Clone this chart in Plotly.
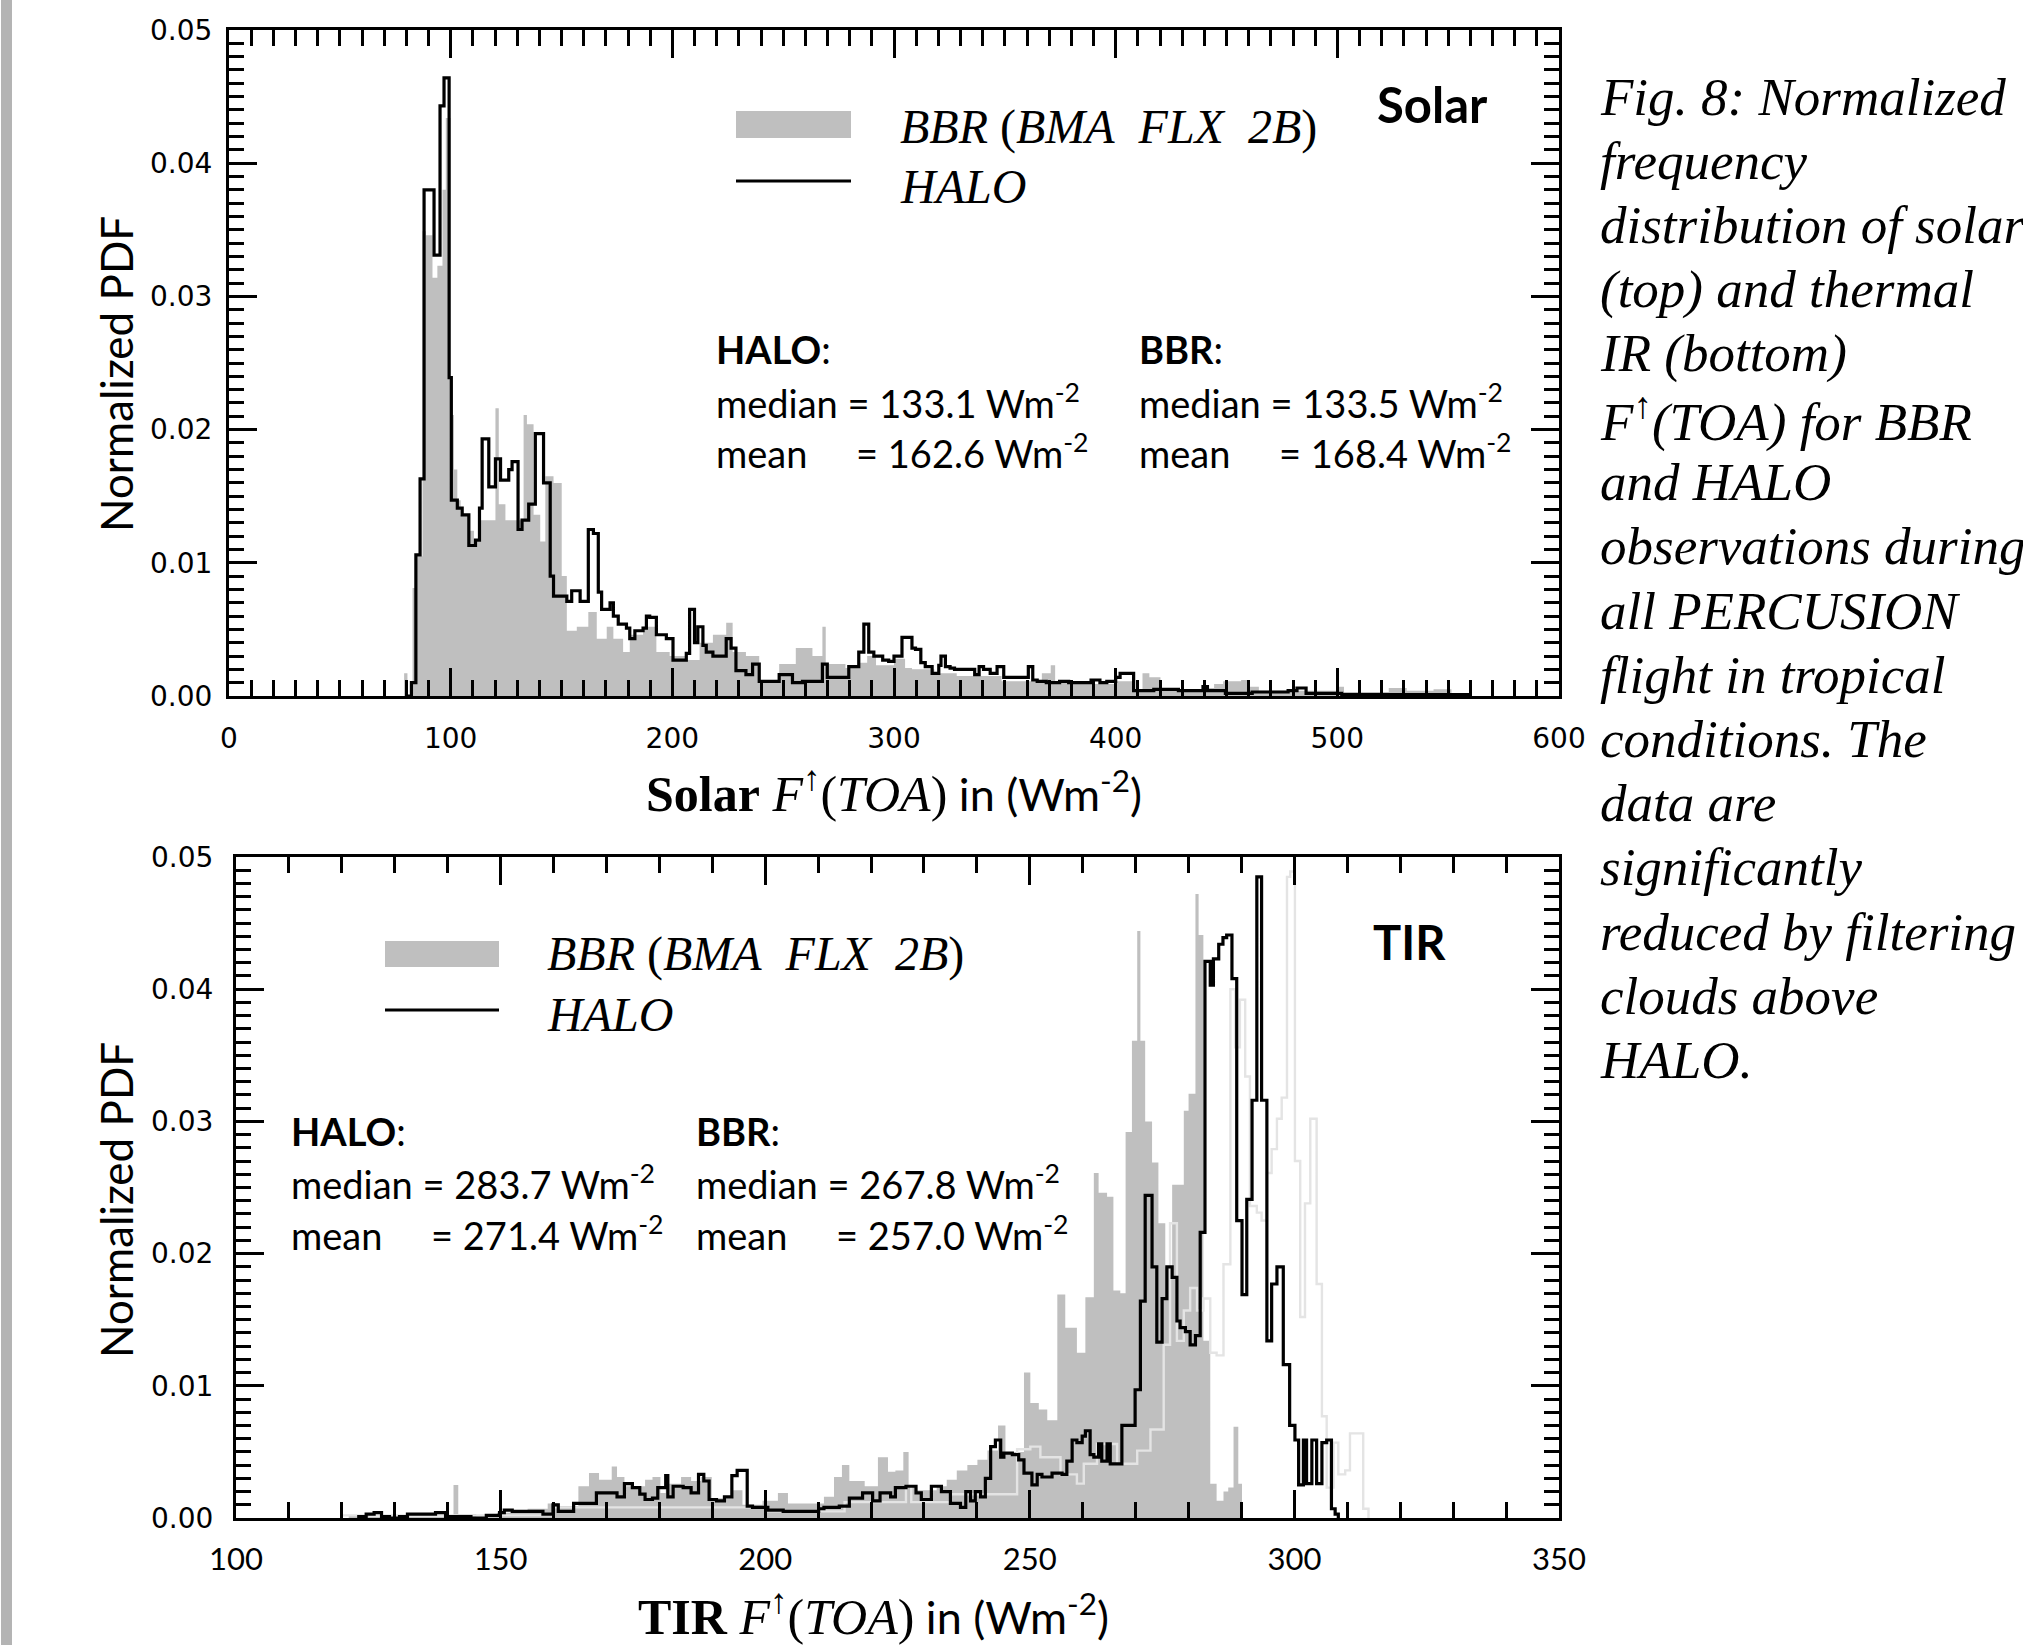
import plotly.graph_objects as go

W, H = 2023, 1645

# ---------------- data (bin edges in Wm-2, normalized PDF) ----------------
# Solar panel: HALO step histogram (value holds from edge i to edge i+1)
SOLAR_HALO_X = [80.0, 82.3, 84.3, 86.2, 88.0, 92.5, 95.2, 97.0, 99.3, 100.3,
                103.0, 105.2, 108.2, 111.2, 113.0, 114.2, 117.2, 120.2, 122.5, 126.2,
                127.7, 130.4, 132.2, 135.2, 138.2, 141.9, 144.9, 146.4, 152.4, 154.6,
                158.4, 162.1, 164.4, 166.6, 168.1, 171.9, 173.4, 175.6, 179.3, 180.8,
                183.1, 186.8, 188.3, 189.8, 192.8, 197.3, 200.3, 206.3, 207.8, 210.0,
                211.5, 213.8, 215.3, 218.3, 224.3, 226.5, 228.7, 233.2, 236.2, 239.2,
                248.2, 254.2, 258.7, 267.7, 269.9, 279.6, 284.1, 286.4, 288.6, 290.9,
                294.9, 297.6, 300.0, 303.6, 308.1, 309.7, 312.1, 314.1, 317.2, 320.2,
                321.2, 323.2, 325.3, 327.3, 336.4, 338.4, 340.4, 343.4, 346.5, 349.5,
                360.6, 362.6, 364.6, 368.7, 374.7, 378.8, 380.8, 388.9, 392.9, 396.0,
                400.0, 402.0, 408.1, 417.2, 428.3, 433.3, 439.4, 441.4, 449.5, 461.6,
                477.8, 481.8, 485.9, 502.0, 560.0]
SOLAR_HALO_PDF = [0.0, 0.0010, 0.0106, 0.0163, 0.0380, 0.0331, 0.0443, 0.0464, 0.0239, 0.0147,
                  0.0141, 0.0136, 0.0113, 0.0117, 0.0141, 0.0193, 0.0157, 0.0178, 0.0162, 0.0170,
                  0.0176, 0.0125, 0.0132, 0.0144, 0.0197, 0.0160, 0.0090, 0.0075, 0.0071, 0.0079,
                  0.0071, 0.0125, 0.0122, 0.0078, 0.0065, 0.0070, 0.0060, 0.0054, 0.0051, 0.0043,
                  0.0049, 0.0051, 0.0060, 0.0059, 0.0046, 0.0043, 0.0027, 0.0032, 0.0065, 0.0040,
                  0.0052, 0.0038, 0.0033, 0.0030, 0.0043, 0.0036, 0.0019, 0.0016, 0.0024, 0.0011,
                  0.0016, 0.0010, 0.0011, 0.0024, 0.0014, 0.0022, 0.0033, 0.0054, 0.0033, 0.0030,
                  0.0027, 0.0026, 0.0030, 0.0044, 0.0036, 0.0035, 0.0025, 0.0022, 0.0017, 0.0023,
                  0.0030, 0.0022, 0.0021, 0.0020, 0.0016, 0.0022, 0.0020, 0.0017, 0.0022, 0.0014,
                  0.0022, 0.0012, 0.0011, 0.0010, 0.0011, 0.0010, 0.0010, 0.0012, 0.0010, 0.0011,
                  0.0014, 0.0017, 0.0004, 0.0005, 0.0004, 0.0004, 0.0007, 0.0004, 0.0002, 0.0003,
                  0.0004, 0.0006, 0.0002, 0.0001, 0.0]

# Solar panel: BBR (BMA FLX 2B) filled histogram
SOLAR_BBR_X = [79.0, 80.5, 82.8, 84.3, 85.8, 87.3, 88.8, 91.8, 94.0, 96.3,
               97.8, 100.0, 101.5, 103.0, 104.5, 108.2, 110.5, 113.5, 120.2, 121.7,
               124.7, 132.9, 134.4, 137.4, 140.4, 142.7, 146.4, 150.1, 152.4, 156.9,
               162.1, 165.9, 170.4, 173.4, 177.8, 180.8, 186.8, 192.8, 198.8, 206.3,
               212.3, 218.3, 224.3, 227.2, 233.2, 239.2, 248.2, 255.7, 263.2, 267.7,
               269.2, 278.1, 283.8, 287.9, 291.9, 300.0, 305.0, 308.1, 318.2, 328.3,
               348.5, 366.7, 370.7, 372.7, 380.8, 400.0, 408.1, 412.1, 415.2, 420.2,
               440.4, 444.4, 448.5, 456.6, 460.6, 464.6, 500.0, 503.0, 523.2, 531.3,
               543.4, 551.5, 560.0]
SOLAR_BBR_PDF = [0.0017, 0.0, 0.0081, 0.0105, 0.0105, 0.0349, 0.0346, 0.0314, 0.0323, 0.0380,
                 0.0434, 0.0211, 0.0170, 0.0147, 0.0136, 0.0124, 0.0116, 0.0132, 0.0216, 0.0144,
                 0.0132, 0.0211, 0.0204, 0.0136, 0.0116, 0.0165, 0.0160, 0.0090, 0.0049, 0.0052,
                 0.0063, 0.0043, 0.0052, 0.0043, 0.0033, 0.0046, 0.0052, 0.0033, 0.0030, 0.0027,
                 0.0040, 0.0046, 0.0055, 0.0033, 0.0030, 0.0011, 0.0024, 0.0036, 0.0030, 0.0052,
                 0.0024, 0.0021, 0.0025, 0.0030, 0.0023, 0.0028, 0.0021, 0.0020, 0.0017, 0.0015,
                 0.0011, 0.0017, 0.0023, 0.0011, 0.0009, 0.0011, 0.0004, 0.0017, 0.0014, 0.0005,
                 0.0006, 0.0009, 0.0011, 0.0012, 0.0007, 0.0004, 0.0007, 0.0003, 0.0006, 0.0004,
                 0.0005, 0.0002, 0.0]

# TIR panel: HALO step histogram
TIR_HALO_X = [123.2, 124.6, 126.1, 127.5, 129.0, 130.9, 132.4, 137.7, 139.6, 144.4,
              147.3, 149.8, 150.7, 152.2, 155.1, 158.0, 159.9, 160.9, 163.8, 168.1,
              169.6, 172.0, 173.4, 174.9, 176.3, 177.3, 178.7, 179.7, 181.2, 181.6,
              182.6, 184.5, 186.0, 187.4, 188.4, 189.4, 190.8, 192.3, 193.7, 194.7,
              196.6, 197.6, 200.5, 203.4, 210.1, 211.1, 214.0, 215.9, 218.4, 220.3,
              221.7, 223.7, 224.6, 226.6, 228.5, 229.5, 231.4, 233.3, 235.0, 236.9,
              237.9, 238.8, 239.7, 240.7, 241.6, 242.6, 243.5, 244.5, 245.1, 246.7,
              247.9, 248.9, 250.4, 251.4, 252.3, 254.2, 256.1, 257.0, 258.0, 258.9,
              259.9, 260.5, 261.4, 262.1, 263.0, 263.6, 264.6, 265.2, 266.5, 267.4,
              269.9, 270.9, 271.8, 273.1, 274.0, 275.0, 275.9, 276.9, 277.8, 278.4,
              279.4, 280.3, 281.3, 282.2, 283.1, 284.1, 284.7, 285.7, 286.5, 287.2,
              288.2, 289.1, 290.1, 291.0, 292.0, 292.9, 293.8, 294.8, 295.7, 296.7,
              297.9, 299.1, 300.1, 300.8, 301.7, 302.3, 303.3, 304.2, 305.2, 306.1,
              307.0, 307.7, 308.3]
TIR_HALO_PDF = [0.0001, 0.0003, 0.0004, 0.0001, 0.0, 0.0001, 0.0003, 0.0004, 0.0001, 0.0,
                0.0002, 0.0004, 0.0006, 0.0005, 0.0005, 0.0003, 0.0010, 0.0005, 0.0011, 0.0019,
                0.0019, 0.0016, 0.0026, 0.0023, 0.0018, 0.0014, 0.0015, 0.0023, 0.0032, 0.0016,
                0.0024, 0.0023, 0.0019, 0.0033, 0.0028, 0.0014, 0.0013, 0.0016, 0.0032, 0.0036,
                0.0009, 0.0008, 0.0006, 0.0005, 0.0007, 0.0008, 0.0009, 0.0015, 0.0019, 0.0013,
                0.0019, 0.0016, 0.0023, 0.0024, 0.0019, 0.0014, 0.0024, 0.0020, 0.0011, 0.0008,
                0.0020, 0.0013, 0.0020, 0.0016, 0.0030, 0.0054, 0.0059, 0.0046, 0.0049, 0.0048,
                0.0044, 0.0034, 0.0025, 0.0033, 0.0031, 0.0034, 0.0033, 0.0043, 0.0059, 0.0057,
                0.0062, 0.0066, 0.0048, 0.0046, 0.0056, 0.0043, 0.0056, 0.0041, 0.0041, 0.0070,
                0.0097, 0.0164, 0.0244, 0.0190, 0.0133, 0.0166, 0.0190, 0.0182, 0.0149, 0.0144,
                0.0141, 0.0131, 0.0138, 0.0216, 0.0421, 0.0403, 0.0423, 0.0434, 0.0439, 0.0441,
                0.0408, 0.0225, 0.0169, 0.0241, 0.0316, 0.0485, 0.0316, 0.0134, 0.0177, 0.0190,
                0.0116, 0.0070, 0.0059, 0.0025, 0.0059, 0.0026, 0.0059, 0.0026, 0.0057, 0.0059,
                0.0007, 0.0003, 0.0]

# TIR panel: BBR (BMA FLX 2B) filled histogram
TIR_BBR_X = [121.3, 125.1, 141.1, 142.0, 145.4, 149.3, 155.1, 158.9, 160.9, 164.7,
             166.7, 168.6, 171.0, 172.0, 173.4, 177.3, 178.7, 180.2, 181.2, 184.1,
             186.0, 187.9, 189.9, 193.7, 195.7, 199.5, 202.4, 204.3, 211.1, 213.0,
             214.5, 215.9, 218.8, 221.3, 223.2, 224.6, 226.1, 227.1, 228.5, 232.4,
             234.3, 236.2, 238.2, 240.1, 242.0, 244.0, 245.4, 248.9, 250.1, 251.7,
             253.3, 255.2, 256.7, 258.9, 260.5, 262.1, 263.0, 264.6, 265.8, 267.1,
             268.1, 269.3, 270.3, 270.9, 271.8, 273.1, 274.3, 275.6, 276.9, 279.1,
             280.0, 281.3, 281.9, 282.8, 284.1, 285.3, 286.6, 287.5, 288.5, 289.4,
             290.1]
TIR_BBR_PDF = [0.0002, 0.0001, 0.0025, 0.0003, 0.0001, 0.0004, 0.0007, 0.0011, 0.0009, 0.0024,
               0.0034, 0.0029, 0.0039, 0.0031, 0.0024, 0.0029, 0.0031, 0.0019, 0.0026, 0.0031,
               0.0028, 0.0031, 0.0015, 0.0021, 0.0010, 0.0013, 0.0019, 0.0011, 0.0016, 0.0031,
               0.0040, 0.0028, 0.0024, 0.0046, 0.0035, 0.0036, 0.0050, 0.0024, 0.0021, 0.0024,
               0.0029, 0.0036, 0.0040, 0.0044, 0.0051, 0.0070, 0.0050, 0.0110, 0.0087, 0.0082,
               0.0074, 0.0169, 0.0144, 0.0125, 0.0167, 0.0261, 0.0246, 0.0243, 0.0172, 0.0170,
               0.0292, 0.0361, 0.0444, 0.0361, 0.0300, 0.0269, 0.0223, 0.0190, 0.0252, 0.0308,
               0.0321, 0.0472, 0.0441, 0.0134, 0.0026, 0.0013, 0.0020, 0.0023, 0.0069, 0.0026,
               0.0]

# TIR panel: faint light-grey histogram (unlabelled in the original)
TIR_LIGHT_X = [120.0, 160.0, 200.0, 215.0, 226.6, 227.6, 235.0, 247.6, 250.1, 252.0,
               255.8, 258.9, 260.2, 262.7, 266.5, 270.3, 272.8, 275.3, 276.5, 277.8,
               279.1, 280.3, 281.6, 282.8, 284.1, 285.3, 286.6, 287.9, 288.8, 289.7,
               290.7, 291.6, 292.9, 293.8, 294.8, 295.7, 296.7, 297.6, 298.6, 299.2,
               300.1, 301.1, 302.0, 303.0, 304.2, 305.2, 306.1, 307.4, 308.3, 309.6,
               310.5, 313.0, 314.0]
TIR_LIGHT_PDF = [0.0002, 0.0008, 0.0005, 0.0012, 0.0024, 0.0012, 0.0018, 0.0052, 0.0054, 0.0046,
                 0.0033, 0.0026, 0.0041, 0.0056, 0.0041, 0.0051, 0.0067, 0.0131, 0.0223, 0.0134,
                 0.0157, 0.0174, 0.0157, 0.0166, 0.0125, 0.0123, 0.0192, 0.0400, 0.0356, 0.0392,
                 0.0334, 0.0236, 0.0231, 0.0225, 0.0261, 0.0279, 0.0302, 0.0318, 0.0485, 0.0489,
                 0.0270, 0.0152, 0.0238, 0.0302, 0.0177, 0.0077, 0.0023, 0.0057, 0.0033, 0.0036,
                 0.0064, 0.0007, 0.0]

# Statistics text
SOLAR_STATS = {"HALO": ("133.1", "162.6"), "BBR": ("133.5", "168.4")}
TIR_STATS = {"HALO": ("283.7", "271.4"), "BBR": ("267.8", "257.0")}

CAPTION_LINES = [
    "Fig. 8: Normalized",
    "frequency",
    "distribution of solar",
    "(top) and thermal",
    "IR (bottom)",
    "F<sup>↑</sup>(TOA) for BBR",
    "and HALO",
    "observations during",
    "all PERCUSION",
    "flight in tropical",
    "conditions. The",
    "data are",
    "significantly",
    "reduced by filtering",
    "clouds above",
    "HALO.",
]

# ---------------- helpers ----------------
SANS = "Lato"
TICKF = "DejaVu Sans"
SERIF = "Liberation Serif"
BBR_GREY = "#bfbfbf"
LIGHT = "#e4e4e4"


def fx(p):
    return p / W


def fy(p):
    return 1 - p / H


def step(edges, pdf):
    return [edges[0]] + list(edges), [0.0] + list(pdf)


fig = go.Figure()

# Solar panel traces
x, y = step(SOLAR_BBR_X, SOLAR_BBR_PDF)
fig.add_trace(go.Scatter(x=x, y=y, mode="lines", line=dict(shape="hv", width=0, color=BBR_GREY),
                         fill="tozeroy", fillcolor=BBR_GREY, xaxis="x", yaxis="y", hoverinfo="skip"))
x, y = step(SOLAR_HALO_X, SOLAR_HALO_PDF)
fig.add_trace(go.Scatter(x=x, y=y, mode="lines", line=dict(shape="hv", width=3.2, color="black"),
                         xaxis="x", yaxis="y"))

# TIR panel traces
x, y = step(TIR_BBR_X, TIR_BBR_PDF)
fig.add_trace(go.Scatter(x=x, y=y, mode="lines", line=dict(shape="hv", width=0, color=BBR_GREY),
                         fill="tozeroy", fillcolor=BBR_GREY, xaxis="x2", yaxis="y2", hoverinfo="skip"))
x, y = step(TIR_LIGHT_X, TIR_LIGHT_PDF)
fig.add_trace(go.Scatter(x=x, y=y, mode="lines", line=dict(shape="hv", width=2.4, color=LIGHT),
                         xaxis="x2", yaxis="y2"))
x, y = step(TIR_HALO_X, TIR_HALO_PDF)
fig.add_trace(go.Scatter(x=x, y=y, mode="lines", line=dict(shape="hv", width=3.2, color="black"),
                         xaxis="x2", yaxis="y2"))

axis_common = dict(showline=True, linecolor="black", linewidth=3, mirror="allticks",
                   ticks="inside", ticklen=28, tickwidth=2.8, tickcolor="black",
                   showgrid=False, zeroline=False, automargin=False)
minor_x = dict(ticks="inside", ticklen=16, tickwidth=2.6, dtick=10, tickcolor="black")
minor_y = dict(ticks="inside", ticklen=15, tickwidth=2.6, dtick=0.001, tickcolor="black")

fig.update_layout(
    width=W, height=H, autosize=False,
    margin=dict(l=0, r=0, t=0, b=0, pad=0, autoexpand=False),
    paper_bgcolor="white", plot_bgcolor="white",
    showlegend=False,
    xaxis=dict(domain=[fx(229), fx(1559)], range=[0, 600], anchor="y", dtick=100, tick0=0,
               minor=minor_x,
               tickfont=dict(family=TICKF, size=28, color="black"), ticklabelstandoff=15,
               **axis_common),
    yaxis=dict(domain=[fy(696), fy(30)], range=[0, 0.05], anchor="x", dtick=0.01, tick0=0,
               tickformat=".2f", minor=minor_y,
               tickfont=dict(family=TICKF, size=28, color="black"), ticklabelstandoff=8,
               **axis_common),
    xaxis2=dict(domain=[fx(236), fx(1559)], range=[100, 350], anchor="y2", dtick=50, tick0=0,
                minor=minor_x,
                tickfont=dict(family=SANS, size=31, color="black"), ticklabelstandoff=12,
                **axis_common),
    yaxis2=dict(domain=[fy(1518), fy(857)], range=[0, 0.05], anchor="x2", dtick=0.01, tick0=0,
                tickformat=".2f", minor=minor_y,
                tickfont=dict(family=TICKF, size=28, color="black"), ticklabelstandoff=14,
                **axis_common),
)

shapes = []
annotations = []

# left grey page edge
shapes.append(dict(type="rect", xref="paper", yref="paper", x0=fx(1), x1=fx(12), y0=0, y1=1,
                   fillcolor="#b4b4b4", line=dict(width=0), layer="below"))


def legend(x0, x1, y_sw0, y_sw1, y_line, x_text, y_t1, y_t2):
    shapes.append(dict(type="rect", xref="paper", yref="paper", x0=fx(x0), x1=fx(x1),
                       y0=fy(y_sw1), y1=fy(y_sw0), fillcolor=BBR_GREY, line=dict(width=0)))
    shapes.append(dict(type="line", xref="paper", yref="paper", x0=fx(x0), x1=fx(x1),
                       y0=fy(y_line), y1=fy(y_line), line=dict(color="black", width=3)))
    annotations.append(dict(text="<i>BBR</i> (<i>BMA\u00a0\u00a0FLX\u00a0\u00a02B</i>)",
                            x=fx(x_text), y=fy(y_t1), xref="paper", yref="paper",
                            xanchor="left", yanchor="middle", showarrow=False,
                            font=dict(family=SERIF, size=48, color="black")))
    annotations.append(dict(text="<i>HALO</i>",
                            x=fx(x_text), y=fy(y_t2), xref="paper", yref="paper",
                            xanchor="left", yanchor="middle", showarrow=False,
                            font=dict(family=SERIF, size=48, color="black")))


legend(736, 851, 111, 138, 181, 898, 127, 186)
legend(385, 499, 941, 967, 1010, 545, 954, 1014)


def stats(values, x_halo, x_bbr, ys):
    for name, xp in (("HALO", x_halo), ("BBR", x_bbr)):
        med, mean = values[name]
        lines = [f"<b>{name}</b>:",
                 f"median = {med} Wm<sup>-2</sup>",
                 f"mean\u00a0\u00a0\u00a0\u00a0 = {mean} Wm<sup>-2</sup>"]
        for t, yy in zip(lines, ys):
            annotations.append(dict(text=t, x=fx(xp), y=fy(yy), xref="paper", yref="paper",
                                    xanchor="left", yanchor="middle", showarrow=False,
                                    font=dict(family=SANS, size=38, color="black")))


stats(SOLAR_STATS, 714, 1137, (349, 401, 451))
stats(TIR_STATS, 289, 694, (1131, 1182, 1233))

# panel labels
annotations.append(dict(text="<b>Solar</b>", x=fx(1432), y=fy(104), xref="paper", yref="paper",
                        xanchor="center", yanchor="middle", showarrow=False,
                        font=dict(family=SANS, size=49, color="black")))
annotations.append(dict(text="<b>TIR</b>", x=fx(1409), y=fy(942), xref="paper", yref="paper",
                        xanchor="center", yanchor="middle", showarrow=False,
                        font=dict(family=SANS, size=47, color="black")))

# axis titles
ser = f'<span style="font-family:{SERIF};font-size:50px">'
for lab, xc, yc in (("Solar", 894, 791), ("TIR", 873, 1613)):
    annotations.append(dict(
        text=f"{ser}<b>{lab}</b> <i>F</i><sup>↑</sup>(<i>TOA</i>)</span> in (Wm<sup>-2</sup>)",
        x=fx(xc), y=fy(yc), xref="paper", yref="paper", xanchor="center", yanchor="middle",
        showarrow=False, font=dict(family=SANS, size=45, color="black")))
for yc in (374, 1200):
    annotations.append(dict(text="Normalized PDF", x=fx(116), y=fy(yc), xref="paper",
                            yref="paper", xanchor="center", yanchor="middle", textangle=-90,
                            showarrow=False, font=dict(family=SANS, size=44, color="black")))

# caption on the right
for i, line in enumerate(CAPTION_LINES):
    annotations.append(dict(text=f"<i>{line}</i>", x=fx(1598), y=fy(97 + i * 64.2),
                            xref="paper", yref="paper", xanchor="left", yanchor="middle",
                            showarrow=False, font=dict(family=SERIF, size=53, color="black")))

fig.update_layout(shapes=shapes, annotations=annotations)
fig.write_html("out.html", config={"displayModeBar": False},
               post_script="document.body.style.margin='0px';document.body.style.overflow='hidden';")
